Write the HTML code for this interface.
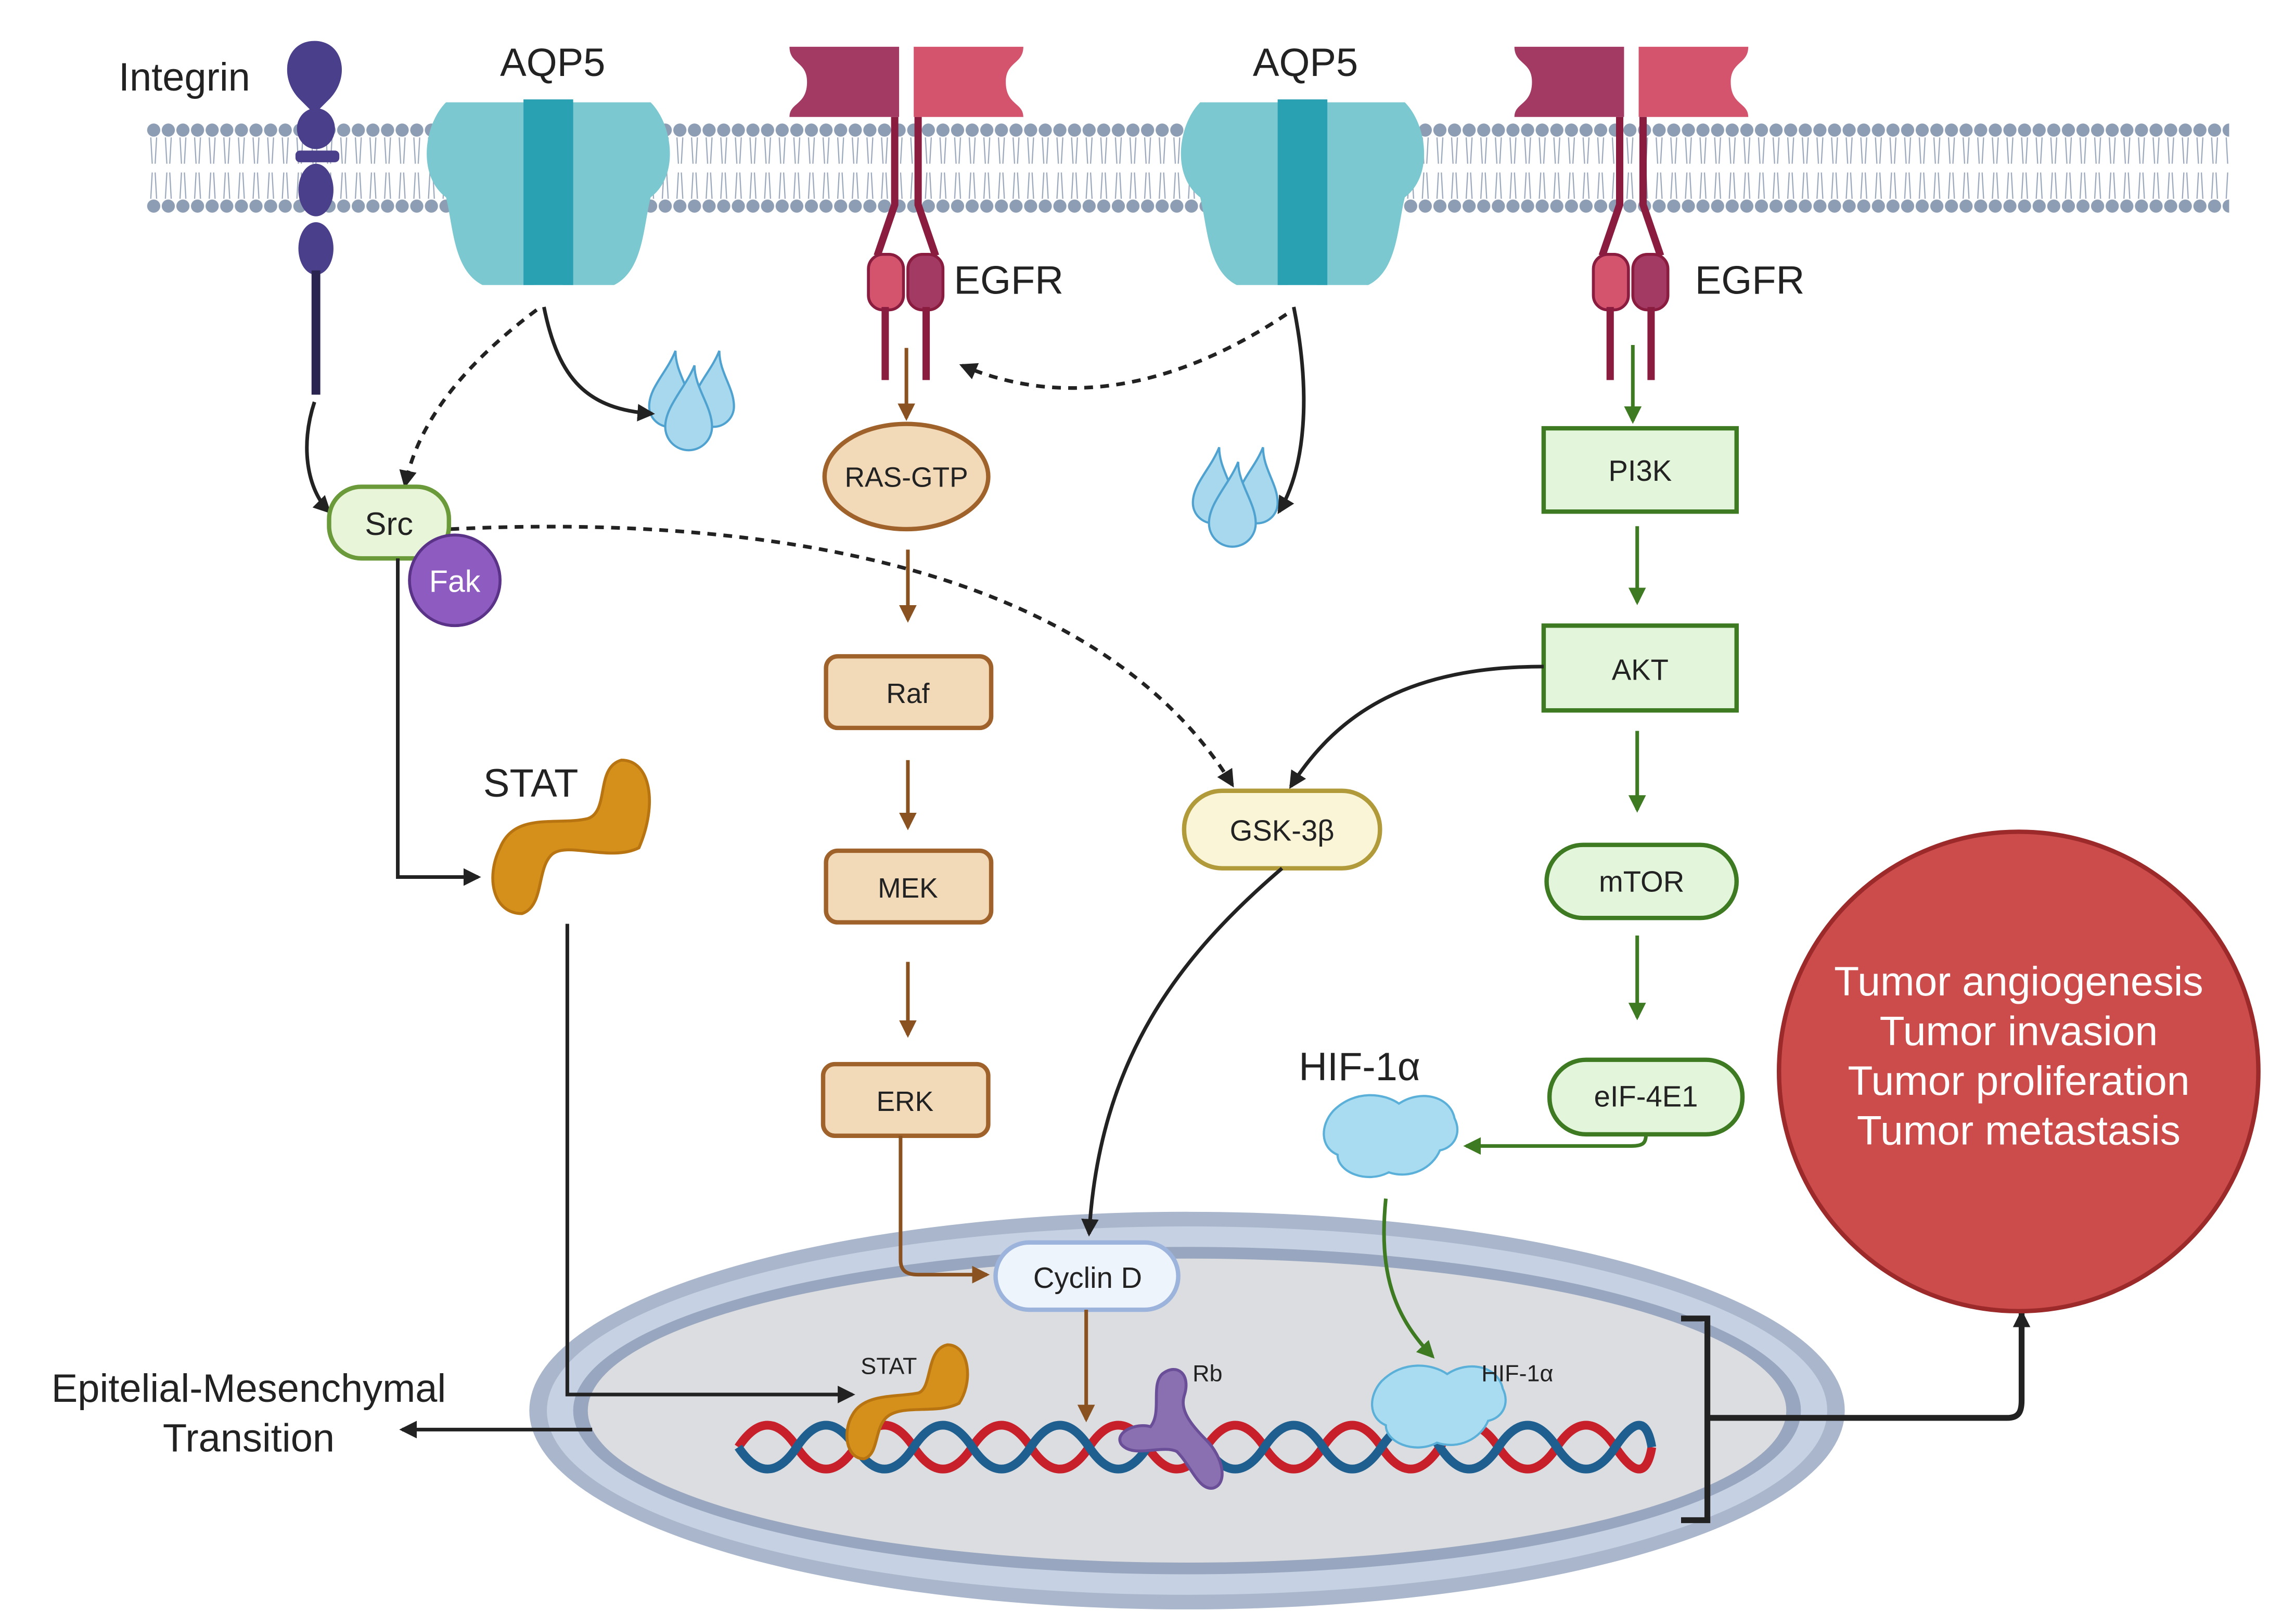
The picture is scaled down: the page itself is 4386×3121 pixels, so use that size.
<!DOCTYPE html>
<html><head><meta charset="utf-8"><style>html,body{margin:0;padding:0;background:#fff}svg{display:block}text{font-family:"Liberation Sans",sans-serif}</style></head><body>
<svg width="4386" height="3121" viewBox="0 0 1561 1111" xmlns="http://www.w3.org/2000/svg">
<defs>
<marker id="ak" markerWidth="8" markerHeight="8" refX="6" refY="4" orient="auto" markerUnits="userSpaceOnUse"><path d="M0,0 L8,4 L0,8 z" fill="#222" transform="scale(1.6) translate(-2,-1.5)"/></marker>
<marker id="ab" markerWidth="14" markerHeight="14" refX="10" refY="7" orient="auto" markerUnits="userSpaceOnUse"><path d="M0,1 L12,7 L0,13 z" fill="#8a5220"/></marker>
<marker id="ag" markerWidth="14" markerHeight="14" refX="10" refY="7" orient="auto" markerUnits="userSpaceOnUse"><path d="M0,1 L12,7 L0,13 z" fill="#3d7a22"/></marker>
<marker id="ad" markerWidth="14" markerHeight="14" refX="10" refY="7" orient="auto" markerUnits="userSpaceOnUse"><path d="M0,1 L12,7 L0,13 z" fill="#222"/></marker>
<pattern id="lip" width="10" height="62" patternUnits="userSpaceOnUse" x="100" y="84">
<circle cx="5" cy="5" r="4.5" fill="#8d9db3"/><circle cx="5" cy="57" r="4.5" fill="#8d9db3"/>
<path d="M3,10 L4,28 M7,10 L6,28 M3,52 L4,34 M7,52 L6,34" stroke="#9aa7ba" stroke-width="0.8" fill="none"/>
</pattern>
</defs>
<rect x="100" y="84" width="1425" height="62" fill="url(#lip)"/>
<!-- nucleus -->
<ellipse cx="812" cy="965" rx="450" ry="136" fill="#a9b6cb"/>
<ellipse cx="812" cy="965" rx="438" ry="126" fill="#c6d1e3"/>
<ellipse cx="812" cy="965" rx="420" ry="112" fill="#98a7bf"/>
<ellipse cx="812" cy="965" rx="410" ry="104" fill="#dcdde0"/>
<!-- DNA -->
<path d="M505,990 q20,-30 40,0 t40,0 t40,0 t40,0 t40,0 t40,0 t40,0 t40,0 t40,0 t40,0 t40,0 t40,0 t40,0 t40,0 t40,0 t25,0" stroke="#c8202a" stroke-width="6" fill="none"/>
<path d="M505,990 q20,30 40,0 t40,0 t40,0 t40,0 t40,0 t40,0 t40,0 t40,0 t40,0 t40,0 t40,0 t40,0 t40,0 t40,0 t40,0 t25,0" stroke="#1f5f8f" stroke-width="6" fill="none"/>
<!-- Integrin -->
<path d="M215,28 c-20,0 -25,25 -10,40 l10,10 l10,-10 c15,-15 10,-40 -10,-40z" fill="#4a3f8a"/>
<ellipse cx="216" cy="88" rx="13" ry="14" fill="#4a3f8a"/><rect x="202" y="103" width="30" height="8" rx="3" fill="#4a3f8a"/>
<ellipse cx="216" cy="130" rx="12" ry="18" fill="#4a3f8a"/><ellipse cx="216" cy="170" rx="12" ry="18" fill="#4a3f8a"/>
<rect x="213" y="185" width="6" height="85" fill="#2a2450"/>
<text x="126" y="62" font-size="27" text-anchor="middle" fill="#222">Integrin</text>
<!-- AQP5 -->
<g id="aqp"><path d="M305,70 h60 v125 h-35 c-20,-10 -20,-40 -25,-60 c-20,-15 -15,-50 0,-65z" fill="#7cc8d0"/><path d="M445,70 h-60 v125 h35 c20,-10 20,-40 25,-60 c20,-15 15,-50 0,-65z" fill="#7cc8d0"/><rect x="358" y="68" width="34" height="127" fill="#2aa0b3"/></g>
<use href="#aqp" x="516"/>
<text x="378" y="52" font-size="27" text-anchor="middle" fill="#222">AQP5</text>
<text x="893" y="52" font-size="27" text-anchor="middle" fill="#222">AQP5</text>
<!-- EGFR -->
<g id="egfr">
<path d="M540,32 h75 v48 h-75 c0,-10 12,-8 12,-24 c0,-14 -12,-12 -12,-24z" fill="#a33a64"/>
<path d="M700,32 h-75 v48 h75 c0,-10 -12,-8 -12,-24 c0,-14 12,-12 12,-24z" fill="#d4546e"/>
<path d="M612,80 v60 l-12,35 M628,80 v60 l12,35" stroke="#8a1c40" stroke-width="5" fill="none"/>
<rect x="594" y="174" width="24" height="38" rx="10" fill="#d4546e" stroke="#8a1c40" stroke-width="2"/>
<rect x="621" y="174" width="24" height="38" rx="10" fill="#a33a64" stroke="#8a1c40" stroke-width="2"/>
<rect x="603" y="210" width="5" height="50" fill="#8a1c40"/><rect x="631" y="210" width="5" height="50" fill="#8a1c40"/>
</g>
<use href="#egfr" x="496"/>
<text x="690" y="201" font-size="27" text-anchor="middle" fill="#222">EGFR</text>
<text x="1197" y="201" font-size="27" text-anchor="middle" fill="#222">EGFR</text>
<!-- droplets -->
<g id="drop" fill="#a7d8ee" stroke="#4fa2cf" stroke-width="1.5"><path d="M462,240 c-6,15 -18,25 -18,38 a14,14 0 0 0 28,0 c0,-13 -10,-23 -10,-38z"/><path d="M492,240 c-6,15 -18,25 -18,38 a14,14 0 0 0 28,0 c0,-13 -10,-23 -10,-38z"/><path d="M475,250 c-6,15 -20,28 -20,42 a16,16 0 0 0 32,0 c0,-14 -12,-27 -12,-42z"/></g>
<use href="#drop" x="372" y="66"/>
<!-- arrows membrane -->
<path d="M372,210 c10,50 30,70 74,73" stroke="#222" stroke-width="2.5" fill="none" marker-end="url(#ad)"/>
<path d="M885,210 c12,60 8,110 -10,140" stroke="#222" stroke-width="2.5" fill="none" marker-end="url(#ad)"/>
<path d="M367,212 c-40,30 -80,70 -90,120" stroke="#222" stroke-width="2.5" stroke-dasharray="6,5" fill="none" marker-end="url(#ad)"/>
<path d="M880,215 c-60,40 -140,70 -222,35" stroke="#222" stroke-width="2.5" stroke-dasharray="6,5" fill="none" marker-end="url(#ad)"/>
<path d="M215,275 c-10,30 -5,60 10,75" stroke="#222" stroke-width="2.5" fill="none" marker-end="url(#ad)"/>
<path d="M308,362 c200,-10 440,20 535,175" stroke="#222" stroke-width="2.5" stroke-dasharray="6,5" fill="none" marker-end="url(#ad)"/>
<!-- Src Fak -->
<rect x="225" y="333" width="82" height="49" rx="22" fill="#e9f5d8" stroke="#6a9a3a" stroke-width="3"/>
<text x="266" y="366" font-size="22" text-anchor="middle" fill="#222">Src</text>
<circle cx="311" cy="397" r="31" fill="#8e5cc0" stroke="#5a3388" stroke-width="2"/>
<text x="311" y="405" font-size="21" text-anchor="middle" fill="#fff">Fak</text>
<path d="M272,382 v218 h55" stroke="#222" stroke-width="2.5" fill="none" marker-end="url(#ad)"/>
<!-- STAT -->
<text x="363" y="545" font-size="27" text-anchor="middle" fill="#222">STAT</text>
<path d="M425,520 c20,0 25,30 12,60 c-20,10 -50,-5 -60,5 c-10,10 -5,35 -20,40 c-20,0 -25,-25 -15,-45 c10,-25 40,-15 60,-20 c15,-5 5,-35 23,-40z" fill="#d4901a" stroke="#b87410" stroke-width="2"/>
<path d="M388,632 v322 h195" stroke="#222" stroke-width="2.5" fill="none" marker-end="url(#ad)"/>
<path d="M648,920 c15,0 18,25 8,40 c-15,8 -40,0 -50,10 c-8,8 -5,25 -15,28 c-12,0 -15,-18 -8,-30 c8,-15 30,-12 45,-15 c10,-3 5,-30 20,-33z" fill="#d4901a" stroke="#b87410" stroke-width="2"/>
<text x="608" y="940" font-size="16" text-anchor="middle" fill="#222">STAT</text>
<!-- EMT -->
<path d="M405,978 h-130" stroke="#222" stroke-width="2.5" fill="none" marker-end="url(#ad)"/>
<text x="170" y="959" font-size="27" text-anchor="middle" fill="#222">Epitelial-Mesenchymal</text>
<text x="170" y="993" font-size="27" text-anchor="middle" fill="#222">Transition</text>
<!-- RAS pathway -->
<path d="M620,238 v48" stroke="#8a5220" stroke-width="2.5" marker-end="url(#ab)"/>
<ellipse cx="620" cy="326" rx="56" ry="36" fill="#f2d9b8" stroke="#a0622b" stroke-width="3"/>
<text x="620" y="333" font-size="19" text-anchor="middle" fill="#222">RAS-GTP</text>
<path d="M621,376 v48" stroke="#8a5220" stroke-width="2.5" marker-end="url(#ab)"/>
<rect x="565" y="449" width="113" height="49" rx="8" fill="#f2d9b8" stroke="#a0622b" stroke-width="3"/>
<text x="621" y="481" font-size="19" text-anchor="middle" fill="#222">Raf</text>
<path d="M621,520 v46" stroke="#8a5220" stroke-width="2.5" marker-end="url(#ab)"/>
<rect x="565" y="582" width="113" height="49" rx="8" fill="#f2d9b8" stroke="#a0622b" stroke-width="3"/>
<text x="621" y="614" font-size="19" text-anchor="middle" fill="#222">MEK</text>
<path d="M621,658 v50" stroke="#8a5220" stroke-width="2.5" marker-end="url(#ab)"/>
<rect x="563" y="728" width="113" height="49" rx="8" fill="#f2d9b8" stroke="#a0622b" stroke-width="3"/>
<text x="619" y="760" font-size="19" text-anchor="middle" fill="#222">ERK</text>
<path d="M616,777 v85 c0,8 5,10 12,10 h47" stroke="#8a5220" stroke-width="2.5" fill="none" marker-end="url(#ab)"/>
<!-- PI3K pathway -->
<path d="M1117,236 v52" stroke="#3d7a22" stroke-width="2.5" marker-end="url(#ag)"/>
<rect x="1056" y="293" width="132" height="57" fill="#e3f5da" stroke="#3d7a22" stroke-width="3"/>
<text x="1122" y="329" font-size="20" text-anchor="middle" fill="#222">PI3K</text>
<path d="M1120,360 v52" stroke="#3d7a22" stroke-width="2.5" marker-end="url(#ag)"/>
<rect x="1056" y="428" width="132" height="58" fill="#e3f5da" stroke="#3d7a22" stroke-width="3"/>
<text x="1122" y="465" font-size="20" text-anchor="middle" fill="#222">AKT</text>
<path d="M1120,500 v54" stroke="#3d7a22" stroke-width="2.5" marker-end="url(#ag)"/>
<rect x="1058" y="578" width="130" height="50" rx="25" fill="#e3f5da" stroke="#3d7a22" stroke-width="3"/>
<text x="1123" y="610" font-size="20" text-anchor="middle" fill="#222">mTOR</text>
<path d="M1120,640 v56" stroke="#3d7a22" stroke-width="2.5" marker-end="url(#ag)"/>
<rect x="1060" y="725" width="132" height="51" rx="25" fill="#e3f5da" stroke="#3d7a22" stroke-width="3"/>
<text x="1126" y="757" font-size="20" text-anchor="middle" fill="#222">eIF-4E1</text>
<path d="M1126,776 c0,6 -2,8 -10,8 h-113" stroke="#3d7a22" stroke-width="2.5" fill="none" marker-end="url(#ag)"/>
<path d="M1056,456 c-90,0 -140,30 -173,82" stroke="#222" stroke-width="2.5" fill="none" marker-end="url(#ad)"/>
<!-- GSK -->
<rect x="810" y="541" width="134" height="53" rx="26" fill="#f9f5d6" stroke="#b09a3a" stroke-width="3"/>
<text x="877" y="575" font-size="20" text-anchor="middle" fill="#222">GSK-3β</text>
<path d="M877,594 c-70,60 -125,130 -132,250" stroke="#222" stroke-width="2.5" fill="none" marker-end="url(#ad)"/>
<!-- Cyclin D -->
<rect x="681" y="850" width="125" height="46" rx="23" fill="#eef4fc" stroke="#9cb3dc" stroke-width="3"/>
<text x="744" y="881" font-size="20" text-anchor="middle" fill="#222">Cyclin D</text>
<path d="M743,896 v75" stroke="#8a5220" stroke-width="2.5" marker-end="url(#ab)"/>
<!-- Rb -->
<path d="M795,940 c10,-8 20,0 15,15 c-3,10 5,20 15,30 c12,12 15,30 5,33 c-10,2 -15,-15 -25,-25 c-10,-5 -30,5 -38,-5 c-5,-8 10,-15 20,-12 c8,-10 0,-28 8,-36z" fill="#8a70b0" stroke="#6a4f98" stroke-width="2"/>
<text x="826" y="945" font-size="16" text-anchor="middle" fill="#222">Rb</text>
<!-- HIF -->
<text x="930" y="739" font-size="27" text-anchor="middle" fill="#222">HIF-1α</text>
<path d="M912,760 c15,-15 35,-12 45,-5 c15,-10 35,-5 38,10 c5,10 0,20 -10,22 c-5,12 -20,20 -35,15 c-15,8 -35,0 -35,-12 c-12,-5 -12,-20 -3,-30z" fill="#a9dcf0" stroke="#5ab0d8" stroke-width="1.5"/>
<path d="M948,820 c-5,50 5,80 32,108" stroke="#3d7a22" stroke-width="2.5" fill="none" marker-end="url(#ag)"/>
<path d="M945,945 c15,-15 35,-12 45,-5 c15,-10 35,-5 38,10 c5,10 0,20 -10,22 c-5,12 -20,20 -35,15 c-15,8 -35,0 -35,-12 c-12,-5 -12,-20 -3,-30z" fill="#a9dcf0" stroke="#5ab0d8" stroke-width="1.5"/>
<text x="1038" y="945" font-size="16" text-anchor="middle" fill="#222">HIF-1α</text>
<!-- bracket -->
<path d="M1150,902 h18 v138 h-18 M1168,970 h205 c8,0 10,-4 10,-12 v-60" stroke="#222" stroke-width="4" fill="none" marker-end="url(#ad)"/>
<!-- red circle -->
<circle cx="1381" cy="733" r="164" fill="#cc4b4b" stroke="#9c2a2a" stroke-width="3"/>
<g font-size="28" fill="#fff" text-anchor="middle"><text x="1381" y="681">Tumor angiogenesis</text><text x="1381" y="715">Tumor invasion</text><text x="1381" y="749">Tumor proliferation</text><text x="1381" y="783">Tumor metastasis</text></g>
</svg>
</body></html>
